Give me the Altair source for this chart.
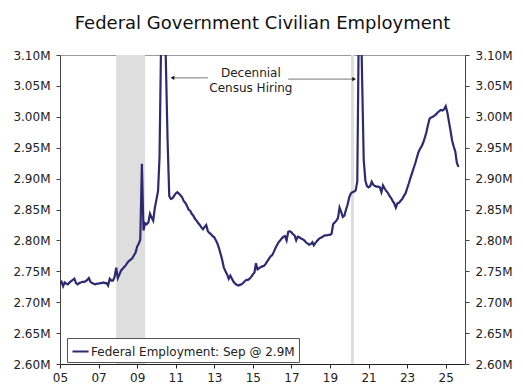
import altair as alt
import pandas as pd

# ---- data (millions of employees), monthly Jan 2005 .. Sep 2025 ----
y2005 = [2.730, 2.733, 2.726, 2.732, 2.730, 2.729, 2.732, 2.734, 2.736, 2.738, 2.731, 2.729]
y2006 = [2.731, 2.732, 2.733, 2.733, 2.734, 2.736, 2.739, 2.733, 2.731, 2.730, 2.729, 2.730]
y2007 = [2.730, 2.731, 2.731, 2.732, 2.731, 2.731, 2.727, 2.738, 2.735, 2.735, 2.741, 2.756]
y2008 = [2.739, 2.745, 2.751, 2.754, 2.757, 2.760, 2.764, 2.767, 2.769, 2.771, 2.776, 2.780]
y2009 = [2.790, 2.795, 2.801, 2.924, 2.816, 2.828, 2.826, 2.829, 2.843, 2.837, 2.832, 2.852]
y2010 = [2.866, 2.880, 2.935, 3.130, 3.400, 3.200, 3.080, 2.960, 2.872, 2.867, 2.868, 2.872]
y2011 = [2.876, 2.878, 2.876, 2.873, 2.870, 2.864, 2.861, 2.856, 2.850, 2.848, 2.843, 2.840]
y2012 = [2.835, 2.832, 2.828, 2.825, 2.821, 2.818, 2.822, 2.825, 2.815, 2.812, 2.810, 2.807]
y2013 = [2.805, 2.800, 2.795, 2.787, 2.778, 2.768, 2.756, 2.750, 2.745, 2.738, 2.743, 2.738]
y2014 = [2.733, 2.730, 2.728, 2.727, 2.728, 2.729, 2.731, 2.734, 2.736, 2.736, 2.738, 2.741]
y2015 = [2.745, 2.748, 2.763, 2.753, 2.755, 2.757, 2.758, 2.759, 2.762, 2.766, 2.770, 2.774]
y2016 = [2.776, 2.781, 2.787, 2.792, 2.797, 2.800, 2.803, 2.806, 2.807, 2.800, 2.814, 2.815]
y2017 = [2.813, 2.810, 2.808, 2.800, 2.806, 2.805, 2.803, 2.802, 2.800, 2.797, 2.795, 2.793]
y2018 = [2.794, 2.797, 2.792, 2.796, 2.799, 2.802, 2.804, 2.805, 2.807, 2.808, 2.808, 2.809]
y2019 = [2.809, 2.811, 2.826, 2.829, 2.832, 2.836, 2.853, 2.846, 2.838, 2.840, 2.850, 2.858]
y2020 = [2.870, 2.876, 2.878, 2.879, 2.881, 2.895, 3.160, 3.200, 3.060, 2.930, 2.897, 2.888]
y2021 = [2.886, 2.888, 2.895, 2.890, 2.888, 2.887, 2.887, 2.886, 2.878, 2.889, 2.884, 2.880]
y2022 = [2.877, 2.872, 2.869, 2.864, 2.860, 2.853, 2.860, 2.861, 2.864, 2.867, 2.872, 2.876]
y2023 = [2.884, 2.892, 2.900, 2.908, 2.916, 2.924, 2.933, 2.942, 2.948, 2.952, 2.958, 2.966]
y2024 = [2.975, 2.987, 2.997, 2.999, 3.000, 3.002, 3.004, 3.007, 3.009, 3.011, 3.010, 3.012]
y2025 = [3.017, 3.007, 2.993, 2.978, 2.962, 2.952, 2.944, 2.925, 2.919]

series_name = "Federal Employment: Sep @ 2.9M"

rec_start = ["2007-12-01", "2020-02-01"]
rec_end = ["2009-06-01", "2020-04-01"]

y_ticks = [2.60, 2.65, 2.70, 2.75, 2.80, 2.85, 2.90, 2.95, 3.00, 3.05, 3.10]
x_tick_years = [2005, 2007, 2009, 2011, 2013, 2015, 2017, 2019, 2021, 2023, 2025]

ann_lines = ["Decennial", "Census Hiring"]
ann_dates = ["2014-11-25", "2014-11-25"]
ann_vals = [3.071, 3.047]
arrow_from = ["2012-09-01", "2016-11-01"]
arrow_to = ["2010-11-01", "2020-04-01"]
arrow_val = [3.063, 3.061]
arrow_shape = ["triangle-left", "triangle-right"]

# ---- tables ----
values = (y2005 + y2006 + y2007 + y2008 + y2009 + y2010 + y2011 + y2012 + y2013 +
          y2014 + y2015 + y2016 + y2017 + y2018 + y2019 + y2020 + y2021 + y2022 +
          y2023 + y2024 + y2025)
dates = pd.date_range("2005-01-01", periods=len(values), freq="MS").strftime("%Y-%m-%d")
df = pd.DataFrame({"date": dates, "emp": values, "series": series_name})
rec_df = pd.DataFrame({"start": rec_start, "end": rec_end})
ann_df = pd.DataFrame({"date": ann_dates, "v": ann_vals, "t": ann_lines})
arr_df = pd.DataFrame({"from": arrow_from, "to": arrow_to, "v": arrow_val, "shape": arrow_shape})

FONT = "DejaVu Sans"
xdom = [alt.DateTime(year=2005, month=1, date=1, utc=True),
        alt.DateTime(year=2026, month=1, date=1, utc=True)]
xscale = alt.Scale(type="utc", domain=xdom)
yscale = alt.Scale(domain=[2.60, 3.10], nice=False, zero=False)
xvals = [alt.DateTime(year=y, month=1, date=1, utc=True) for y in x_tick_years]

axis_common = dict(values=y_ticks, labelExpr="format(datum.value, '.2f') + 'M'", title=None,
                   grid=False, tickSize=4, labelPadding=6, domainColor="#444",
                   tickColor="#444", labelFont=FONT, labelFontSize=12, labelColor="#222")

x_axis = alt.Axis(values=xvals, labelExpr="utcFormat(datum.value, '%y')", title=None,
                  grid=False, tickSize=4, labelPadding=4, domainColor="#222",
                  tickColor="#222", labelFont=FONT, labelFontSize=12, labelColor="#222",
                  labelFlush=False, labelOverlap=False)

rects = alt.Chart(rec_df).mark_rect(color="#dedede").encode(
    x=alt.X("start:T", scale=xscale, axis=x_axis),
    x2="end:T",
)

line = alt.Chart(df).mark_line(strokeWidth=2.2, clip=True).encode(
    x=alt.X("date:T", scale=xscale),
    y=alt.Y("emp:Q", scale=yscale, axis=alt.Axis(orient="left", **axis_common)),
    color=alt.Color("series:N", scale=alt.Scale(range=["#2d2a72"]),
                    legend=alt.Legend(title=None, orient="none", legendX=7, legendY=283,
                                      symbolType="stroke", symbolStrokeWidth=2,
                                      symbolSize=260, labelFont=FONT, labelFontSize=12,
                                      labelColor="#222", strokeColor="#555",
                                      fillColor="white", padding=4, labelOffset=1,
                                      labelLimit=400)),
)

arrows = alt.Chart(arr_df).mark_rule(color="#777", strokeWidth=1).encode(
    x=alt.X("from:T", scale=xscale),
    x2="to:T",
    y=alt.Y("v:Q", scale=yscale, axis=None),
)
heads = alt.Chart(arr_df).mark_point(filled=True, color="#111", size=18, opacity=1).encode(
    x=alt.X("to:T", scale=xscale),
    y=alt.Y("v:Q", scale=yscale, axis=None),
    shape=alt.Shape("shape:N", scale=None),
)

text = alt.Chart(ann_df).mark_text(font=FONT, fontSize=12, color="#222",
                                   align="center", baseline="middle").encode(
    x=alt.X("date:T", scale=xscale),
    y=alt.Y("v:Q", scale=yscale, axis=alt.Axis(orient="right", **axis_common)),
    text="t:N",
)

chart = alt.layer(rects, line, arrows, heads, text).resolve_axis(y="independent").properties(
    width=405, height=309,
    padding={"left": 52, "top": 47, "right": 50, "bottom": 24},
    autosize=alt.AutoSizeParams(type="none"),
    title=alt.Title("Federal Government Civilian Employment", font=FONT, fontSize=18,
                    fontWeight="normal", color="#111", anchor="middle", offset=16),
).configure_view(stroke="#999", strokeWidth=1)

chart.save("out.html", embed_options={"renderer": "svg", "actions": False})
